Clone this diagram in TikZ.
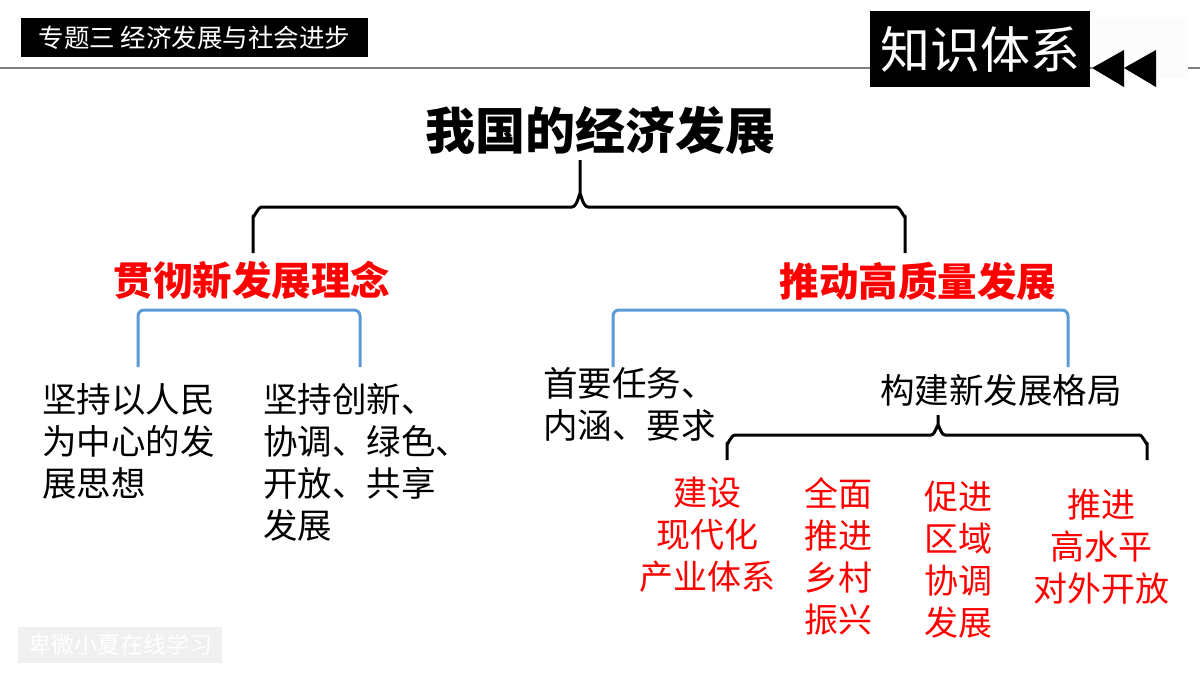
\documentclass[tikz,border=0pt]{standalone}
\usepackage{fontspec}
\setmainfont{Noto Sans CJK SC}
\usepackage{tikz}
\usetikzlibrary{positioning}
\definecolor{bracketblue}{HTML}{5B9BD5}
\definecolor{markgray}{HTML}{F0F0F0}

\begin{document}
\begin{tikzpicture}[
    x=1pt, y=-1pt,
    banner/.style={fill=black, text=white, inner sep=0pt},
    bodytext/.style={align=left, inner sep=0pt, font=\fontsize{34.5}{42}\selectfont},
    redhead/.style={text=red, inner sep=0pt, font=\fontsize{39.5}{46}\selectfont\bfseries},
    redcol/.style={text=red, align=center, inner sep=0pt, font=\fontsize{34}{42}\selectfont},
    bigbrace/.style={line width=3pt, line join=round},
    bluebrk/.style={draw=bracketblue, line width=3pt, rounded corners=6pt}
  ]
    \useasboundingbox (0,0) rectangle (1200,675);

    % Header
    \draw[gray, line width=1.8pt] (0,68) -- (1200,68);
    \node[banner, minimum width=347pt, minimum height=39pt,
      font=\fontsize{25.5}{28}\selectfont] (topic) at (194.5,37.5) {专题三 经济发展与社会进步};
    \fill[black!1.5] (1092,17) rectangle (1188,78);
    \node[banner, minimum width=220pt, minimum height=76pt,
      font=\fontsize{50}{56}\selectfont] (know) at (980,49) {知识体系};
    \fill (1092,68) -- (1124,50) -- (1124,87) -- cycle;
    \fill (1124,68) -- (1156,50) -- (1156,87) -- cycle;

    % Main title and two branches
    \node[inner sep=0pt, font=\fontsize{50}{56}\selectfont\bfseries] (main) at (600,130) {我国的经济发展};
    \node[redhead] (idea) at (252,280) {贯彻新发展理念};
    \node[redhead] (quality) at (918,281) {推动高质量发展};

    \coordinate (btop) at (580,160);
    \coordinate (bl) at (253,253);
    \coordinate (br) at (905,253);
    \draw[bigbrace] (bl) -- (253,216) to[out=-90,in=180] (262,207) -- (572,207)
      to[out=0,in=90] (580,195) -- (btop);
    \draw[bigbrace] (580,195) to[out=90,in=180] (588,207) -- (896,207)
      to[out=0,in=-90] (905,216) -- (br);

    % Left branch
    \draw[bluebrk] (138,367) -- (138,310) -- (360,310) -- (360,367);
    \node[bodytext, anchor=west] (people) at (42,441) {坚持以人民\\为中心的发\\展思想};
    \node[bodytext, anchor=west] (five) at (263,462) {坚持创新、\\协调、绿色、\\开放、共享\\发展};

    % Right branch
    \draw[bluebrk] (613,367) -- (613,310) -- (1068,310) -- (1068,367);
    \node[bodytext, anchor=west] (task) at (543,404) {首要任务、\\内涵、要求};
    \node[bodytext, anchor=west] (pattern) at (880,390) {构建新发展格局};

    \coordinate (stop) at (938,415);
    \draw[bigbrace] (727,460) -- (727,443) to[out=-90,in=180] (735,435) -- (931,435)
      to[out=0,in=90] (938,426) -- (stop);
    \draw[bigbrace] (938,426) to[out=90,in=180] (945,435) -- (1139,435)
      to[out=0,in=-90] (1147,443) -- (1147,460);

    \node[redcol] (industry) at (707,535) {建设\\现代化\\产业体系};
    \node[redcol] (rural) at (838,556) {全面\\推进\\乡村\\振兴};
    \node[redcol] (region) at (958,560) {促进\\区域\\协调\\发展};
    \node[redcol] (open) at (1101,547) {推进\\高水平\\对外开放};

    % Watermark
    \node[fill=markgray, text=white, inner sep=0pt, minimum width=204pt, minimum height=36pt,
      font=\fontsize{23}{26}\selectfont] (mark) at (120,645) {卑微小夏在线学习};
  \end{tikzpicture}
\end{document}
